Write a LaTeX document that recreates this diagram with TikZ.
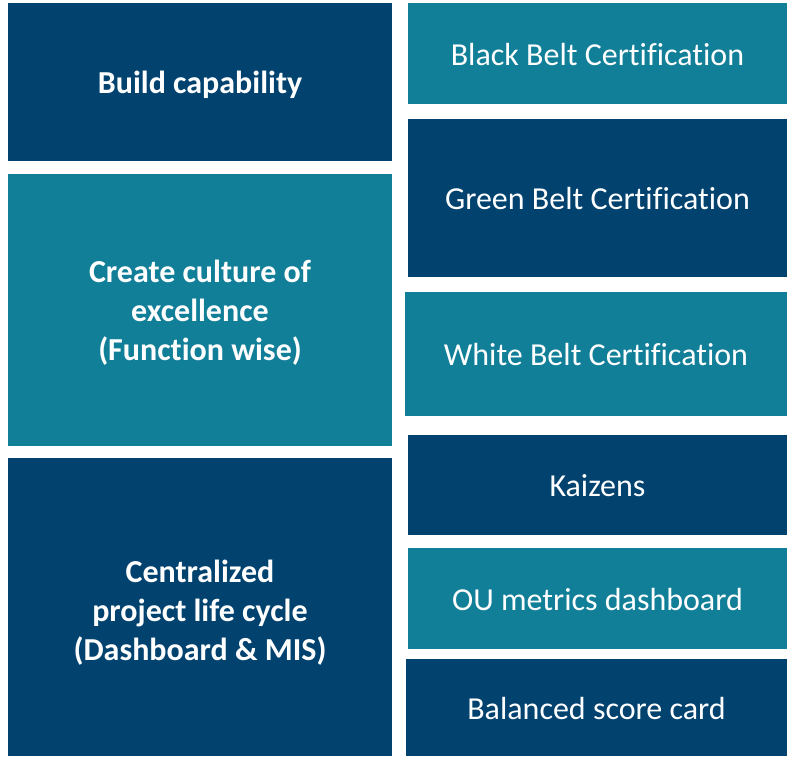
\documentclass[tikz,border=0pt]{standalone}
\usepackage{fontspec}
\setmainfont{Carlito}[Ligatures=NoCommon]
\usepackage{tikz}
\definecolor{deepblue}{HTML}{01426F}
\definecolor{seablue}{HTML}{127F99}
\tikzset{
    goal box/.style = {
        shape = rectangle,
        align = center,
        fill  = #1,
        text  = white,
        font  = \fontsize{32}{39}\selectfont\bfseries,
        text height=31pt,
        text depth=8pt,
        minimum width=384pt,
        inner sep=0pt
    },
    item box/.style = {
        shape = rectangle,
        align = center,
        fill  = #1,
        text  = white,
        font  = \fontsize{32}{39}\selectfont,
        text height=31pt,
        text depth=8pt,
        minimum width=379pt,
        inner sep=0pt
    }
}

\begin{document}
\begin{tikzpicture}[x=1pt, y=-1pt]
      \useasboundingbox (0,0) rectangle (787,756);
      % left column
      \node (build) at (200,82) [goal box = deepblue, minimum height=158pt] {Build capability};
      \node (culture) at (200,310) [goal box = seablue, minimum height=272pt, text height=109pt] {Create culture of\\excellence\\(Function wise)};
      \node (central) at (200,607) [goal box = deepblue, minimum height=298pt, text height=115pt] {Centralized\\project life cycle\\(Dashboard \& MIS)};

      % right column
      \node (black) at (597.5,53.5) [item box = seablue, minimum height=101pt] {Black Belt Certification};
      \node (green) at (597.5,198) [item box = deepblue, minimum height=158pt] {Green Belt Certification};
      \node (white) at (596,354) [item box = seablue, minimum height=124pt, minimum width=382pt] {White Belt Certification};
      \node (kaizen) at (597.5,485) [item box = deepblue, minimum height=100pt] {Kaizens};
      \node (metrics) at (597.5,598.5) [item box = seablue, minimum height=101pt] {OU metrics dashboard};
      \node (score) at (596.5,707.5) [item box = deepblue, minimum height=97pt, minimum width=381pt] {Balanced score card};
    \end{tikzpicture}
\end{document}
